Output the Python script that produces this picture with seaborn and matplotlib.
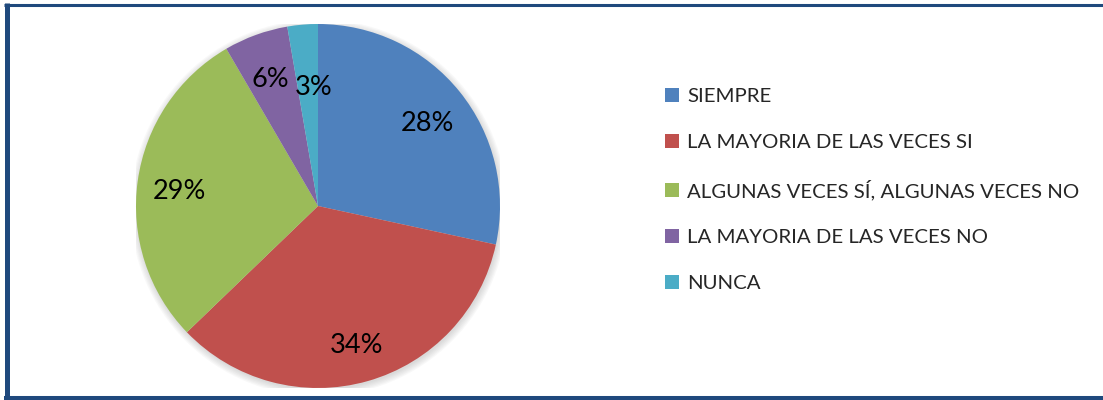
import matplotlib
matplotlib.use("Agg")
import matplotlib.pyplot as plt
from matplotlib.lines import Line2D
from matplotlib.patches import Patch, Circle
from matplotlib.transforms import offset_copy
import numpy as np
import seaborn as sns

categories = ["SIEMPRE", "LA MAYORIA DE LAS VECES SI",
              "ALGUNAS VECES SÍ, ALGUNAS VECES NO",
              "LA MAYORIA DE LAS VECES NO", "NUNCA"]
values = [28.4, 34.4, 28.8, 5.7, 2.7]
pct_labels = ["28%", "34%", "29%", "6%", "3%"]
colors = ["#4F81BD", "#C0504D", "#9BBB59", "#8064A2", "#4BACC6"]

sns.set_theme(style="white")
sns.set_palette(colors)
plt.rcParams["font.family"] = ["Lato", "DejaVu Sans"]

W, H = 1103, 400
fig = plt.figure(figsize=(W / 100, H / 100), dpi=100)
fig.patch.set_facecolor("white")

cx, cy, R = 318, 206, 182
ax = fig.add_axes([(cx - R) / W, (H - cy - R) / H, 2 * R / W, 2 * R / H])

# soft shadow
for r in np.linspace(1.035, 1.0, 6):
    ax.add_patch(Circle((0.005, -0.01), r, color="#808080", alpha=0.05, lw=0, zorder=0))

wedges, texts = ax.pie(
    values, colors=colors, startangle=90, counterclock=False,
    radius=1.0, wedgeprops=dict(linewidth=0))
radial = [0.77, 0.77, 0.77, 0.77, 0.68]
tr = offset_copy(ax.transData, fig=fig, x=0, y=-5, units="dots")
for w, lab, rf in zip(wedges, pct_labels, radial):
    ang = np.deg2rad((w.theta1 + w.theta2) / 2)
    dx = 0.035 if lab == "3%" else 0.0
    ax.text(rf * np.cos(ang) + dx, rf * np.sin(ang), lab, ha="center", va="center",
            fontsize=19.5, color="black", transform=tr)
ax.set_xlim(-1, 1)
ax.set_ylim(-1, 1)
ax.set_aspect("equal")
ax.axis("off")

handles = [Patch(facecolor=c, edgecolor="none") for c in colors]
fig.legend(handles, categories, loc="upper left",
           bbox_to_anchor=(665 / W, 1 - 88 / H), frameon=False,
           fontsize=14.7, labelspacing=1.41, handlelength=0.68,
           handleheight=0.68, handletextpad=0.42, borderpad=0, borderaxespad=0)

border = "#1F497D"
fig.add_artist(Line2D([6.5 / W, 6.5 / W], [0, 1 - 3 / H], transform=fig.transFigure,
                      color=border, lw=3.6, solid_capstyle="butt"))
fig.add_artist(Line2D([4 / W, 1], [1 - 4.5 / H, 1 - 4.5 / H], transform=fig.transFigure,
                      color=border, lw=2.2, solid_capstyle="butt"))
fig.add_artist(Line2D([4 / W, 1], [2 / H, 2 / H], transform=fig.transFigure,
                      color=border, lw=2.9, solid_capstyle="butt"))

fig.savefig("out.png", dpi=100, facecolor="white")
